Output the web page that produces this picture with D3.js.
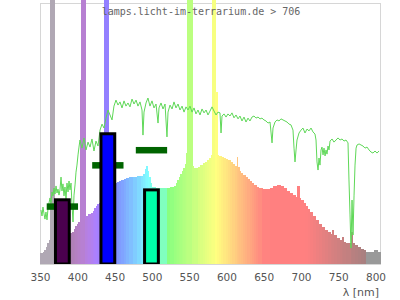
<!DOCTYPE html>
<html>
<head>
  <meta charset="UTF-8">
  <style>
    body { margin: 0; background: #fff }
    svg { display: block }
  </style>
</head>
<body>
<div id="chart"></div>
<script src="https://d3js.org/d3.v7.min.js"></script>
<script>
// lamp spectrum: each bar runs from specNm[i] to the next wavelength
const specNm = [350, 354, 356, 358, 360, 362, 363.5, 369, 375, 382, 388, 391, 393, 395, 397, 399, 401,
  403.5, 405, 410.5, 413, 415, 418, 421, 423, 425, 427, 429, 431, 435.5, 442.5, 446, 450, 453, 456,
  459, 462, 466, 470, 475, 480, 485, 488, 490.5, 492.5, 494.5, 496, 498, 500, 505, 520, 525, 530,
  532, 534, 536, 538, 540, 542, 544, 546, 547.5, 554, 556, 562, 565, 568, 571, 574, 577, 579, 580.5,
  585, 587.5, 590, 593, 596, 599, 602, 605, 608, 611, 614, 615.5, 617, 619, 622, 625, 628, 631, 634,
  637, 640, 643, 648, 658, 663, 668, 672, 676, 680, 684, 688, 692, 694.5, 697.5, 700, 703, 706, 709,
  712, 716, 720, 724, 728, 732, 736, 740, 742, 744, 748, 752, 755.5, 757, 760, 767, 768.5, 772, 776,
  780, 784, 787, 798.5, 802];
const specVal = [4.2, 4.6, 5.4, 6.5, 8.0, 9.2, 130, 20, 21, 20, 12, 11.9, 12.3, 13.4, 14.5, 15.3, 16.1,
  70.5, 130, 18.4, 18.4, 19.2, 19.5, 20.3, 21.5, 22.2, 23.0, 23.4, 24.5, 130, 28, 30, 31.0, 31.4, 31.8,
  32.2, 32.6, 33.0, 33.3, 33.5, 33.7, 33.7, 34.5, 36.4, 37.5, 35.6, 33.3, 31.0, 29.5, 29.1, 29.3, 29.5, 29.9,
  31.0, 32.2, 33.3, 34.5, 35.6, 36.8, 38.3, 42.5, 130, 37.5, 36.8, 37.2, 37.9, 38.7, 39.1, 39.8, 40.6, 41.8, 130,
  65.9, 41.8, 41.4, 41.0, 40.6, 40.2, 39.8, 39.1, 38.3, 37.5, 41.0, 37.2, 35.6, 34.9, 34.1, 33.3, 32.6, 31.8, 31.0,
  30.3, 29.5, 29.1, 28.7, 29.1, 29.9, 30.3, 29.9, 29.1, 28.0, 27.2, 26.4, 25.7, 29.9, 25.3, 24.5, 23.4, 22.2, 21.1,
  19.9, 18.4, 16.9, 15.3, 14.2, 13.0, 12.3, 11.5, 13.0, 11.1, 10.0, 9.2, 10.5, 8.6, 8.0, 12.3, 8.0, 7.3, 6.5,
  5.7, 5.4, 4.6, 5.4, 4.6];

// reference (daylight) curve
const sunNm = [351.3, 352.7, 354.0, 355.4, 356.7, 358.0, 359.4, 360.7, 362.1, 363.4, 364.8, 366.1, 367.4,
  368.8, 370.1, 371.5, 372.8, 374.1, 375.5, 376.8, 378.2, 379.5, 380.8, 382.2, 383.5, 384.9, 386.2, 387.6,
  388.9, 390.2, 391.6, 392.9, 394.3, 395.6, 397.0, 398.3, 399.6, 401.0, 402.3, 403.6, 406.3, 409.0, 411.7,
  414.4, 417.1, 419.7, 422.4, 425.1, 427.8, 430.5, 433.2, 435.8, 438.5, 441.2, 443.9, 446.6, 449.2, 451.9,
  454.6, 457.3, 460.0, 462.7, 465.3, 468.0, 470.7, 473.4, 476.1, 478.8, 481.4, 484.1, 486.8, 488.1, 489.5,
  492.2, 494.8, 497.5, 500.2, 502.9, 505.6, 508.3, 509.6, 512.3, 515.0, 517.7, 520.3, 521.7, 524.4, 527.1,
  529.7, 532.4, 535.1, 537.8, 540.5, 543.2, 545.8, 548.5, 551.2, 553.9, 556.6, 559.2, 561.9, 564.6, 567.3,
  570.0, 572.7, 575.3, 578.0, 580.7, 583.4, 586.1, 588.7, 591.4, 592.8, 594.1, 596.8, 599.5, 602.1, 604.8,
  607.5, 610.2, 612.9, 615.6, 618.2, 620.9, 623.6, 626.3, 629.0, 631.6, 634.3, 637.0, 639.7, 642.4, 645.1,
  647.7, 650.4, 653.1, 655.8, 658.5, 661.2, 662.5, 665.2, 667.9, 670.6, 673.2, 675.9, 678.6, 681.3, 684.0,
  686.6, 689.3, 690.7, 692.0, 693.4, 694.7, 697.4, 700.1, 702.7, 705.4, 708.1, 710.8, 713.5, 716.1, 718.8,
  720.2, 721.5, 722.9, 724.2, 725.5, 726.9, 728.2, 729.6, 730.9, 732.3, 733.6, 734.9, 736.3, 737.6, 739.0,
  741.7, 744.3, 747.0, 749.7, 752.4, 755.1, 757.7, 760.4, 763.1, 764.4, 765.8, 767.1, 768.5, 769.8, 771.2,
  772.5, 773.9, 775.2, 777.9, 780.5, 783.2, 785.9, 788.6, 791.3, 793.9, 796.6, 799.3, 802.0, 804.7];
const sunVal = [20.7, 18.4, 21.8, 19.2, 17.2, 19.9, 16.9, 21.1, 23.4, 25.3, 23.4, 27.6, 26.1,
  29.1, 26.8, 29.9, 27.2, 28.7, 26.4, 28.4, 33.3, 28.0, 30.7, 26.1, 29.5, 24.9, 31.0, 27.6,
  31.8, 28.4, 31.0, 22.6, 16.1, 26.4, 30.3, 35.2, 37.9, 41.8, 44.8, 47.5, 44.4, 48.3, 43.7,
  46.7, 44.8, 47.9, 43.3, 47.1, 45.2, 51.3, 53.6, 52.1, 55.9, 59.0, 57.1, 55.2, 60.5, 62.8,
  60.9, 62.1, 59.8, 62.5, 60.5, 61.7, 60.2, 63.2, 61.3, 62.8, 60.5, 62.1, 59.0, 49.4, 58.2,
  61.7, 63.6, 60.5, 62.5, 59.8, 61.3, 54.0, 59.8, 61.7, 59.4, 61.3, 48.7, 58.2, 60.9, 59.4,
  62.1, 59.8, 61.3, 59.0, 60.5, 58.2, 60.2, 59.0, 60.5, 58.2, 59.8, 57.5, 59.0, 57.1, 59.4,
  57.9, 59.0, 57.1, 58.6, 60.2, 58.6, 57.1, 58.2, 57.9, 50.2, 56.7, 57.5, 56.3, 57.5, 56.7,
  57.9, 56.0, 57.1, 55.6, 56.7, 54.8, 56.3, 54.4, 55.9, 54.8, 56.3, 56.7, 55.9, 56.3, 55.6,
  55.9, 55.2, 54.8, 54.0, 54.4, 46.4, 52.1, 54.4, 55.2, 54.8, 55.6, 55.2, 54.8, 54.4, 53.6,
  53.3, 51.3, 44.4, 39.1, 43.7, 47.5, 50.2, 51.3, 52.1, 50.2, 51.7, 51.0, 52.1, 50.6, 49.8,
  47.5, 39.1, 36.0, 40.6, 37.9, 43.7, 44.8, 41.8, 44.4, 41.4, 43.7, 42.1, 45.2, 43.7, 47.1,
  47.9, 46.7, 47.5, 48.3, 47.5, 47.9, 47.1, 47.5, 46.4, 32.2, 18.8, 6.1, 24.5, 11.1, 26.4,
  37.9, 44.4, 45.6, 46.0, 45.6, 45.2, 44.4, 44.8, 43.7, 42.9, 42.5, 43.3, 42.5, 43.3];

// sensitivity bands: bar height and marker level
const bandNm = [380, 441, 499.5];
const bandBar = [24.6, 49.9, 28.4];
const bandMark = [22.0, 37.8, 43.6];
const bandFill = ["#4b004f", "#0000ff", "#00ffaa"];

const xTicks = [350, 400, 450, 500, 550, 600, 650, 700, 750, 800];

const width = 400, height = 300;
const mLeft = 40, mRight = 380, mTop = 3, mBottom = 264;

const svg = d3.select("#chart").append("svg")
  .attr("width", width)
  .attr("height", height);

const x = d3.scaleLinear().domain([350, 806]).range([mLeft, mRight]);
const y = d3.scaleLinear().domain([0, 100]).range([mBottom, mTop]);

// wavelength -> pale spectral colour
function specColor(nm) {
  if (nm < 368) return "#b0a8b4";
  if (nm > 786) return "#999999";
  const w = nm - 5;
  let r = 0, g = 0, b = 0;
  if (w < 440) { r = (440 - w) / 60; b = 1; }
  else if (w < 490) { g = (w - 440) / 50; b = 1; }
  else if (w < 510) { g = 1; b = (510 - w) / 20; }
  else if (w < 580) { r = (w - 510) / 70; g = 1; }
  else if (w < 645) { r = 1; g = (645 - w) / 65; }
  else { r = 1; }
  let f = 1;
  if (w < 420) f = 0.3 + 0.7 * Math.max(0, w - 380) / 40;
  else if (w > 700) f = 0.3 + 0.7 * Math.max(0, 780 - w) / 80;
  const c = v => Math.round(255 * (0.5 + 0.5 * v * f));
  return d3.rgb(c(r), c(g), c(b)).formatHex();
}

svg.append("defs").append("clipPath").attr("id", "plot")
  .append("rect").attr("x", mLeft).attr("y", 0)
  .attr("width", mRight - mLeft).attr("height", mBottom);

// frame
svg.append("rect")
  .attr("x", mLeft + 0.5).attr("y", mTop + 0.5)
  .attr("width", mRight - mLeft).attr("height", mBottom - mTop)
  .attr("fill", "none").attr("stroke", "#d6d6d6");

// lamp spectrum
svg.append("g").attr("shape-rendering", "crispEdges")
  .selectAll("rect")
  .data(specNm)
  .join("rect")
  .attr("x", d => x(d))
  .attr("width", (d, i) => x(i < specNm.length - 1 ? specNm[i + 1] : 806) - x(d) + 0.5)
  .attr("y", (d, i) => Math.max(0, y(specVal[i])))
  .attr("height", (d, i) => mBottom - Math.max(0, y(specVal[i])))
  .attr("fill", d => specColor(d));

// daylight line
svg.append("path")
  .datum(sunNm)
  .attr("d", d3.line().x(d => x(d)).y((d, i) => y(sunVal[i])))
  .attr("fill", "none")
  .attr("stroke", "#5fd858")
  .attr("stroke-width", 1);

// markers
svg.append("g").selectAll("rect")
  .data(bandNm)
  .join("rect")
  .attr("x", d => x(d - 21))
  .attr("width", d => x(d + 21) - x(d - 21))
  .attr("y", (d, i) => y(bandMark[i]) - 3.25)
  .attr("height", 6.5)
  .attr("fill", "#006400");

// bars
svg.append("g").attr("clip-path", "url(#plot)")
  .selectAll("rect")
  .data(bandNm)
  .join("rect")
  .attr("x", d => x(d - 9.25))
  .attr("width", d => x(d + 9.25) - x(d - 9.25))
  .attr("y", (d, i) => y(bandBar[i]))
  .attr("height", (d, i) => y(0) - y(bandBar[i]))
  .attr("fill", (d, i) => bandFill[i])
  .attr("stroke", "#000")
  .attr("stroke-width", 3);

// x axis
const xAxis = svg.append("g")
  .attr("transform", `translate(0,${mBottom})`)
  .call(d3.axisBottom(x).tickValues(xTicks).tickSize(0).tickPadding(10).tickFormat(d3.format("d")));
xAxis.select(".domain").remove();
xAxis.selectAll("text")
  .attr("fill", "#555")
  .style("font", "10.5px 'DejaVu Sans', sans-serif");

svg.append("text")
  .attr("x", 379).attr("y", 296)
  .attr("text-anchor", "end")
  .attr("fill", "#555")
  .style("font", "11px 'DejaVu Sans', sans-serif")
  .text("λ [nm]");

svg.append("text")
  .attr("x", 201).attr("y", 14.5)
  .attr("text-anchor", "middle")
  .attr("fill", "#666")
  .style("font", "10px 'DejaVu Sans Mono', monospace")
  .text("lamps.licht-im-terrarium.de > 706");
</script>
</body>
</html>
